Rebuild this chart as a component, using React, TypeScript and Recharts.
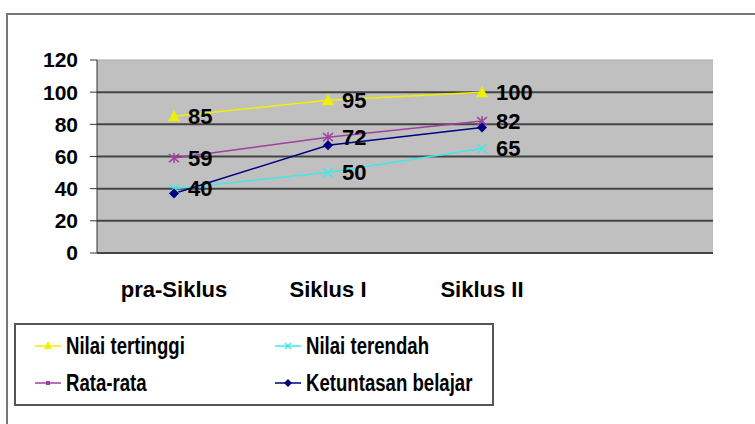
import React from "react";
import { LineChart, Line, XAxis, YAxis, CartesianGrid, LabelList, ReferenceLine } from "recharts";

const categories = ["pra-Siklus", "Siklus I", "Siklus II", ""];
const nilaiTertinggi = [85, 95, 100, null];
const rataRata = [59, 72, 82, null];
const nilaiTerendah = [40, 50, 65, null];
const ketuntasanBelajar = [37, 67, 78, null];
const yTicks = [0, 20, 40, 60, 80, 100, 120];
const edgeTicks = [0, 1, 2, 3, 4];

const FONT = "'Liberation Sans', Arial, sans-serif";

const data = categories.map((cat, i) => ({
  cat,
  tertinggi: nilaiTertinggi[i],
  rata: rataRata[i],
  terendah: nilaiTerendah[i],
  tuntas: ketuntasanBelajar[i],
}));

// marker shapes, Excel 2003 style
const Triangle = (props: any) => {
  const { cx, cy, fill } = props;
  if (cx == null || cy == null || props.value == null) return null;
  return <polygon points={`${cx},${cy - 6} ${cx - 6},${cy + 5} ${cx + 6},${cy + 5}`} fill={fill} />;
};
const Cross = (props: any) => {
  const { cx, cy, stroke } = props;
  if (cx == null || cy == null || props.value == null) return null;
  return (
    <g stroke={stroke} strokeWidth={1.5}>
      <line x1={cx - 5} y1={cy - 5} x2={cx + 5} y2={cy + 5} />
      <line x1={cx - 5} y1={cy + 5} x2={cx + 5} y2={cy - 5} />
    </g>
  );
};
const Star = (props: any) => {
  const { cx, cy, stroke } = props;
  if (cx == null || cy == null || props.value == null) return null;
  return (
    <g stroke={stroke} strokeWidth={1.5}>
      <line x1={cx - 5} y1={cy - 4} x2={cx + 5} y2={cy + 4} />
      <line x1={cx - 5} y1={cy + 4} x2={cx + 5} y2={cy - 4} />
      <line x1={cx} y1={cy - 5} x2={cx} y2={cy + 5} />
    </g>
  );
};
const Diamond = (props: any) => {
  const { cx, cy, fill } = props;
  if (cx == null || cy == null || props.value == null) return null;
  return <polygon points={`${cx},${cy - 5} ${cx + 5},${cy} ${cx},${cy + 5} ${cx - 5},${cy}`} fill={fill} />;
};

const labelStyle = { fill: "#000", fontSize: 22, fontWeight: "bold", fontFamily: FONT } as const;
const tickStyle = { fill: "#000", fontSize: 21, fontWeight: "bold", fontFamily: FONT };

const legendItems = [
  { name: "Nilai tertinggi", color: "#f0f000", shape: "tri", left: 35, top: 333 },
  { name: "Nilai terendah", color: "#40e8e8", shape: "x", left: 275, top: 333 },
  { name: "Rata-rata", color: "#a040a0", shape: "star", left: 35, top: 370 },
  { name: "Ketuntasan belajar", color: "#000080", shape: "dia", left: 275, top: 370 },
];

const LegendIcon = ({ color, shape }: { color: string; shape: string }) => (
  <svg width={26} height={12} style={{ marginRight: 5 }}>
    <line x1={0} y1={6} x2={26} y2={6} stroke={color} strokeWidth={1.5} />
    {shape === "tri" && <polygon points="13,1 9,9 17,9" fill={color} />}
    {shape === "x" && (
      <g stroke={color} strokeWidth={1.5}>
        <line x1={10} y1={3} x2={16} y2={9} />
        <line x1={10} y1={9} x2={16} y2={3} />
      </g>
    )}
    {shape === "star" && <rect x={11} y={4} width={4} height={4} fill={color} />}
    {shape === "dia" && <polygon points="13,2 17,6 13,10 9,6" fill={color} />}
  </svg>
);

export default function App() {
  return (
    <div style={{ position: "absolute", left: 0, top: 0, width: 755, height: 424, background: "#fff", overflow: "hidden", fontFamily: FONT }}>
      <div style={{ position: "absolute", left: 6, top: 13, width: 780, height: 440, border: "2px solid #777" }} />
      <div style={{ position: "absolute", left: 0, top: 0 }}>
        <LineChart width={755} height={424} data={data} margin={{ top: 60, right: 42, bottom: 131, left: 0 }}>
          <CartesianGrid fill="#c0c0c0" vertical={false} horizontalValues={[0, 20, 40, 60, 80, 100]} stroke="#444" strokeWidth={2} />
          <ReferenceLine y={120} stroke="#a8a8a8" />
          <ReferenceLine xAxisId="edge" x={4} stroke="#a8a8a8" />
          <XAxis xAxisId="edge" type="number" domain={[0, 4]} ticks={edgeTicks} tick={false} tickSize={7} height={0} axisLine={false} stroke="#333" />
          <XAxis dataKey="cat" scale="band" height={40} axisLine={false} tickLine={false} tickSize={0} tickMargin={28} interval={0}
            tick={{ ...tickStyle, fontSize: 22 }} />
          <YAxis domain={[0, 120]} ticks={yTicks} width={97} tickSize={7} tickMargin={12} stroke="#333" interval={0}
            tick={tickStyle} />
          <Line dataKey="tertinggi" stroke="#f0f000" strokeWidth={1.5} dot={<Triangle fill="#f0f000" />} isAnimationActive={false}>
            <LabelList dataKey="tertinggi" position="right" offset={14} style={labelStyle} />
          </Line>
          <Line dataKey="terendah" stroke="#40e8e8" strokeWidth={1.5} dot={<Cross stroke="#40e8e8" />} isAnimationActive={false}>
            <LabelList dataKey="terendah" position="right" offset={14} style={labelStyle} />
          </Line>
          <Line dataKey="rata" stroke="#a040a0" strokeWidth={1.5} dot={<Star stroke="#a040a0" />} isAnimationActive={false}>
            <LabelList dataKey="rata" position="right" offset={14} style={labelStyle} />
          </Line>
          <Line dataKey="tuntas" stroke="#000080" strokeWidth={1.5} dot={<Diamond fill="#000080" />} isAnimationActive={false} />
        </LineChart>
      </div>
      <div style={{ position: "absolute", left: 14, top: 323, width: 476, height: 79, border: "2px solid #555" }} />
      {legendItems.map((it) => (
        <div key={it.name} style={{ position: "absolute", left: it.left, top: it.top, display: "flex", alignItems: "center", fontSize: 20, fontWeight: "bold", color: "#000", lineHeight: "26px" }}>
          <LegendIcon color={it.color} shape={it.shape} />
          <span style={{ display: "inline-block", transform: "scale(0.93, 1.15)", transformOrigin: "left center" }}>{it.name}</span>
        </div>
      ))}
    </div>
  );
}
